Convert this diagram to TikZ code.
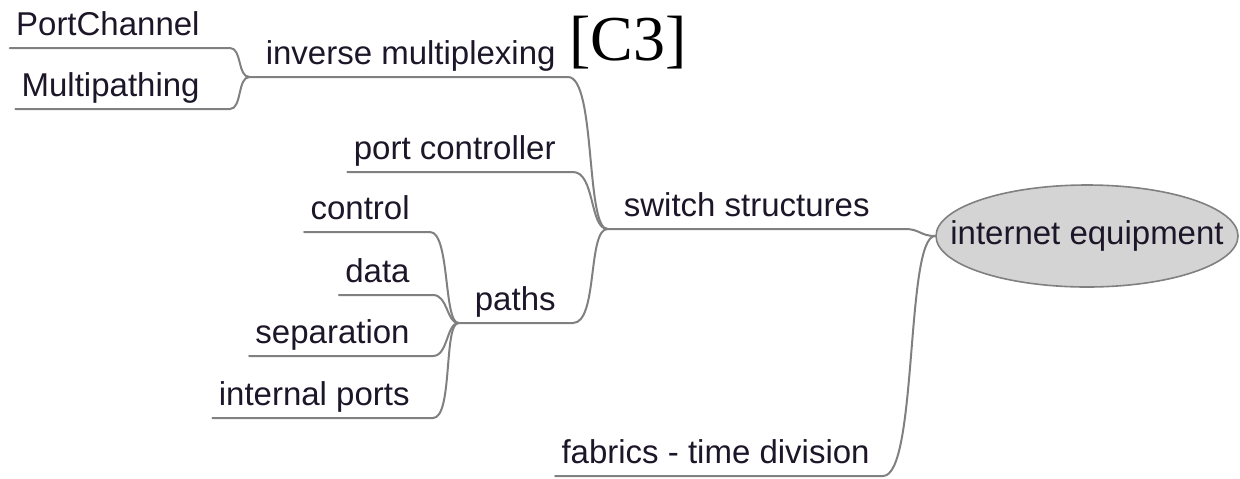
\documentclass[tikz,border=0pt]{standalone}
\usepackage{fontspec}
\setmainfont{Liberation Sans}
\newfontfamily\serifface{Liberation Serif}
\usetikzlibrary{shapes.geometric}
\definecolor{linkgray}{RGB}{128,128,128}
\definecolor{inkdark}{RGB}{28,22,40}
\definecolor{rootfill}{RGB}{212,212,212}
\begin{document}
\begin{tikzpicture}[x=0.5pt,y=-0.5pt,
  topic/.style={anchor=south east, inner xsep=3pt, inner ysep=0pt,
    text height=12pt, text depth=6.2pt,
    font=\fontsize{16.5}{18}\selectfont, text=inkdark},
  hub/.style={topic, execute at begin node={\hspace{5pt}}},
  link/.style={draw=linkgray, line width=1pt, line cap=round, line join=round},
  root/.style={ellipse, draw=linkgray, fill=rootfill, line width=0.8pt,
    minimum width=151pt, minimum height=51pt, inner sep=0pt},
  roottext/.style={inner sep=0pt, font=\fontsize{16.5}{18}\selectfont, text=inkdark}]
\useasboundingbox (0,0) rectangle (1240,478);

% topics
\node[topic] (pc)    at (206,48)  {PortChannel};
\node[topic] (mp)    at (206,109) {Multipathing};
\node[hub]   (im)    at (562,77)  {inverse multiplexing};
\node[topic] (pctl)  at (562,172) {port controller};
\node[hub]   (ss)    at (876,229) {switch structures};
\node[topic] (ctrl)  at (416,232) {control};
\node[topic] (data)  at (416,295) {data};
\node[topic] (sep)   at (416,356) {separation};
\node[topic] (ip)    at (416,418) {internal ports};
\node[hub]   (paths) at (562,323) {paths};
\node[topic] (fab)   at (876,476) {fabrics - time division};

% central topic: grey ellipse with its title on top
\node[root]     (ie)     at (1087,236) {};
\node[roottext] (ietext) at (ie.center) {internet equipment};

\node[anchor=base west, inner sep=0pt, text=black,
  font=\serifface\fontsize{32}{34}\selectfont] (ref) at (569,60) {[C3]};

% branches: underline of each topic, then a curve to its parent
\draw[link] (pc.south west) -- (pc.south east) -- ++(24,0)
  .. controls +(12,0) and +(-12,0) .. (im.south west);
\draw[link] (mp.south west) -- (mp.south east) -- ++(24,0)
  .. controls +(12,0) and +(-12,0) .. (im.south west);

\draw[link] (ctrl.south west) -- (ctrl.south east) -- ++(14,0)
  .. controls +(20,0) and +(-15,0) .. (paths.south west);
\draw[link] (data.south west) -- (data.south east) -- ++(17,0)
  .. controls +(15,0) and +(-12,0) .. (paths.south west);
\draw[link] (sep.south west) -- (sep.south east) -- ++(17,0)
  .. controls +(15,0) and +(-12,0) .. (paths.south west);
\draw[link] (ip.south west) -- (ip.south east) -- ++(17,0)
  .. controls +(20,0) and +(-15,0) .. (paths.south west);

\draw[link] (im.south west) -- (im.south east) -- ++(6,0)
  .. controls +(28,0) and +(-22,0) .. (ss.south west);
\draw[link] (pctl.south west) -- (pctl.south east) -- ++(11,0)
  .. controls +(22,0) and +(-18,0) .. (ss.south west);
\draw[link] (paths.south west) -- (paths.south east) -- ++(11,0)
  .. controls +(25,0) and +(-20,0) .. (ss.south west);

\draw[link] (ss.south west) -- (ss.south east) -- ++(29,0)
  .. controls +(15,0) and +(-15,0) .. (ie.west);
\draw[link] (fab.south west) -- (fab.south east) -- ++(7,0)
  .. controls +(35,0) and +(-30,0) .. (ie.west);
\end{tikzpicture}
\end{document}
